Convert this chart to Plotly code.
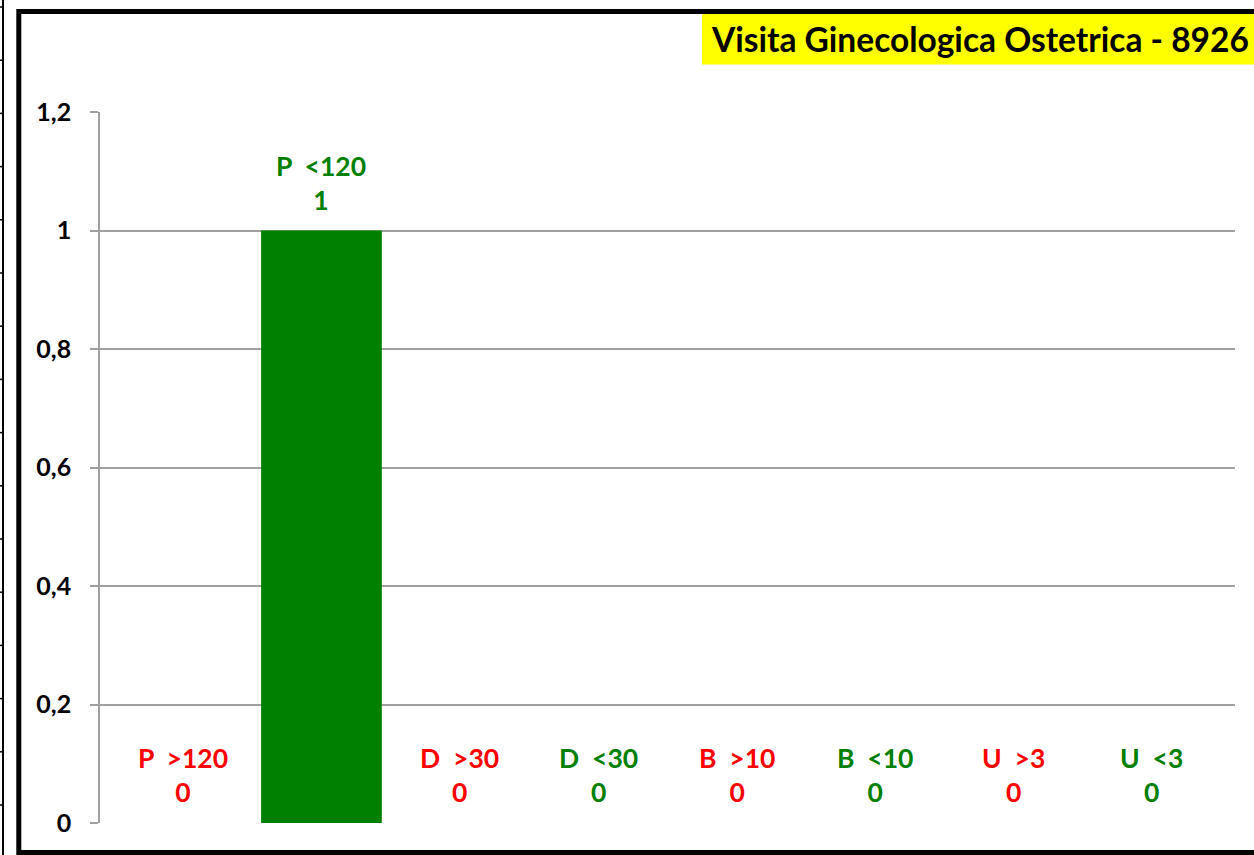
import plotly.graph_objects as go

# ---- data ----
categories = ["P  >120", "P  <120", "D  >30", "D  <30", "B  >10", "B  <10", "U  >3", "U  <3"]
values = [0, 1, 0, 0, 0, 0, 0, 0]
bar_colors = ["#FF0000", "#008000", "#FF0000", "#008000", "#FF0000", "#008000", "#FF0000", "#008000"]
y_ticks = [0, 0.2, 0.4, 0.6, 0.8, 1.0, 1.2]
title_text = "Visita Ginecologica Ostetrica - 8926"

W, H = 1254, 855
L, R, T, B = 100, 19, 112, 32
PW, PH = W - L - R, H - T - B

def px(x):
    return (x - L) / PW

def py(y):
    return 1 - (y - T) / PH

FONT = "Lato"
GRID = "#a0a0a0"

fig = go.Figure()
fig.add_trace(go.Bar(
    x=categories, y=values,
    marker=dict(color=bar_colors, line=dict(width=0)),
    width=0.872,
    hoverinfo="x+y",
))

annotations = []
for c, v, col in zip(categories, values, bar_colors):
    annotations.append(dict(
        x=c, y=v, xref="x", yref="y",
        text="<b>" + c.replace(" ", "\u00a0") + "<br>" + str(v) + "</b>",
        showarrow=False, yanchor="bottom", xanchor="center", yshift=13,
        font=dict(family=FONT, size=26.5, color=col),
    ))

# title text (yellow box drawn as a shape)
annotations.append(dict(
    x=px(709), y=py(39), xref="paper", yref="paper",
    xanchor="left", yanchor="middle",
    text="<b>" + title_text + "</b>",
    showarrow=False,
    font=dict(family=FONT, size=33.5, color="black"),
))

shapes = []
# yellow title box
shapes.append(dict(type="rect", xref="paper", yref="paper",
                   x0=px(702), x1=px(1270), y0=py(13.5), y1=py(64.5),
                   line=dict(width=0), fillcolor="#FFFF00", layer="below"))
# outer thick black border
shapes.append(dict(type="rect", xref="paper", yref="paper",
                   x0=px(18.8), x1=px(1265), y0=py(11.5), y1=py(852.5),
                   line=dict(color="black", width=5), fillcolor="rgba(0,0,0,0)", layer="above"))
# neighbouring chart edge on the far left
shapes.append(dict(type="line", xref="paper", yref="paper",
                   x0=px(3), x1=px(3), y0=py(0), y1=py(855),
                   line=dict(color="black", width=2)))
yy = 7.0
while yy < 855:
    shapes.append(dict(type="line", xref="paper", yref="paper",
                       x0=px(0), x1=px(3), y0=py(yy), y1=py(yy),
                       line=dict(color="black", width=1.5)))
    yy += 53.2

fig.update_layout(
    width=W, height=H,
    margin=dict(l=L, r=R, t=T, b=B, pad=0),
    paper_bgcolor="white", plot_bgcolor="white",
    separators=",.",
    showlegend=False,
    annotations=annotations,
    shapes=shapes,
    font=dict(family=FONT),
)
fig.update_xaxes(
    type="category", range=[-0.6, 7.6],
    showticklabels=False, showgrid=False, zeroline=False, showline=False, ticks="",
    fixedrange=True,
)
fig.update_yaxes(
    range=[0, 1.2], tickvals=y_ticks,
    showgrid=True, gridcolor=GRID, gridwidth=1.6,
    zeroline=False,
    showline=True, linecolor=GRID, linewidth=1.6,
    ticks="outside", ticklen=8, tickcolor=GRID, tickwidth=1.6,
    ticklabelstandoff=14,
    tickfont=dict(family=FONT, size=25, color="black", weight="bold"),
    fixedrange=True,
)

fig.write_html(
    "out.html",
    config={"displayModeBar": False},
    post_script="document.body.style.margin='0';document.body.style.overflow='hidden';",
)
